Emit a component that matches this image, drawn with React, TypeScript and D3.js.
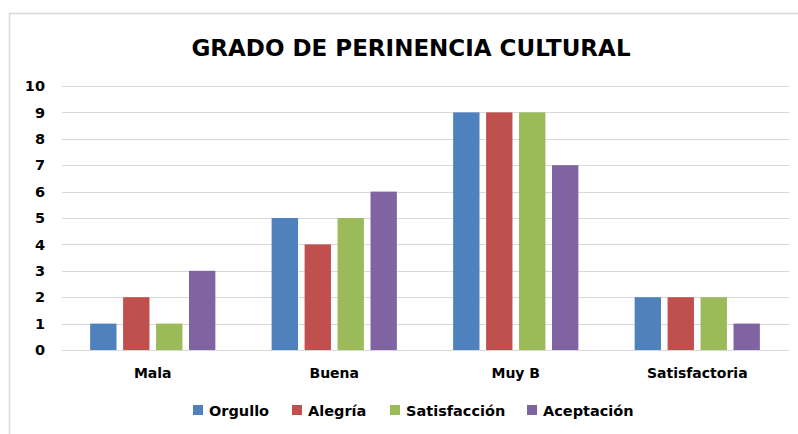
import React, { useEffect, useRef } from 'react';
import * as d3 from 'd3';

const categories = ['Mala', 'Buena', 'Muy B', 'Satisfactoria'];
const seriesNames = ['Orgullo', 'Alegría', 'Satisfacción', 'Aceptación'];
const orgullo = [1, 5, 9, 2];
const alegria = [2, 4, 9, 2];
const satisfaccion = [1, 5, 9, 2];
const aceptacion = [3, 6, 7, 1];
const yTicks = [0, 1, 2, 3, 4, 5, 6, 7, 8, 9, 10];
const colors = ['#4F81BD', '#C0504D', '#9BBB59', '#8064A2'];

export default function App() {
  const chartRef = useRef<SVGSVGElement>(null);

  useEffect(() => {
    const svg = d3.select(chartRef.current);
    svg.selectAll('*').remove();

    const width = 798;
    const height = 434;
    const margin = { top: 86, right: 9, bottom: 84, left: 62 };
    const font = "'DejaVu Sans', sans-serif";
    const values = [orgullo, alegria, satisfaccion, aceptacion];

    // chart frame (only top and left edges visible)
    svg.append('rect')
      .attr('x', 9.5).attr('y', 13.5)
      .attr('width', 820).attr('height', 440)
      .attr('fill', '#fff')
      .attr('stroke', '#d9d9d9')
      .attr('stroke-width', 1.5);

    const x0 = d3.scaleBand()
      .domain(categories)
      .range([margin.left, width - margin.right - 1])
      .paddingInner(0.31)
      .paddingOuter(0.155);

    const x1 = d3.scaleBand()
      .domain(seriesNames)
      .range([0, x0.bandwidth()])
      .paddingInner(0.2);

    const y = d3.scaleLinear()
      .domain([0, 10])
      .range([height - margin.bottom, margin.top]);

    // gridlines
    svg.append('g')
      .selectAll('line')
      .data(yTicks)
      .join('line')
      .attr('x1', margin.left)
      .attr('x2', width - margin.right)
      .attr('y1', d => Math.round(y(d)) + 0.5)
      .attr('y2', d => Math.round(y(d)) + 0.5)
      .attr('stroke', '#d9d9d9')
      .attr('stroke-width', 1);

    // y tick labels
    svg.append('g')
      .selectAll('text')
      .data(yTicks)
      .join('text')
      .attr('x', 45)
      .attr('y', d => y(d))
      .attr('dy', '0.36em')
      .attr('text-anchor', 'end')
      .attr('font-family', font)
      .attr('font-weight', 'bold')
      .attr('font-size', 14.5)
      .attr('fill', '#000')
      .text(d => d);

    // bars
    const groups = svg.append('g')
      .selectAll('g')
      .data(categories)
      .join('g')
      .attr('transform', d => `translate(${x0(d)},0)`);

    groups.selectAll('rect')
      .data((c, i) => seriesNames.map((s, j) => ({ s, j, v: values[j][i] })))
      .join('rect')
      .attr('x', d => x1(d.s)!)
      .attr('y', d => y(d.v))
      .attr('width', x1.bandwidth())
      .attr('height', d => y(0) - y(d.v))
      .attr('fill', d => colors[d.j]);

    // category labels
    svg.append('g')
      .selectAll('text')
      .data(categories)
      .join('text')
      .attr('x', d => x0(d)! + x0.bandwidth() / 2)
      .attr('y', 378)
      .attr('text-anchor', 'middle')
      .attr('font-family', font)
      .attr('font-weight', 'bold')
      .attr('font-size', 14)
      .attr('fill', '#000')
      .text(d => d);

    // title
    svg.append('text')
      .attr('x', 411)
      .attr('y', 56)
      .attr('text-anchor', 'middle')
      .attr('font-family', font)
      .attr('font-weight', 'bold')
      .attr('font-size', 23)
      .attr('fill', '#000')
      .text('GRADO DE PERINENCIA CULTURAL');

    // legend
    const legendX = [193, 292, 390, 527];
    const legend = svg.append('g')
      .selectAll('g')
      .data(seriesNames)
      .join('g')
      .attr('transform', (d, i) => `translate(${legendX[i]},405)`);
    legend.append('rect')
      .attr('width', 10).attr('height', 10)
      .attr('fill', (d, i) => colors[i]);
    legend.append('text')
      .attr('x', 16)
      .attr('y', 11)
      .attr('font-family', font)
      .attr('font-weight', 'bold')
      .attr('font-size', 14.5)
      .attr('fill', '#000')
      .text(d => d);
  }, []);

  return (
    <svg
      ref={chartRef}
      width={798}
      height={434}
      style={{ position: 'absolute', left: 0, top: 0, background: '#fff' }}
    />
  );
}
